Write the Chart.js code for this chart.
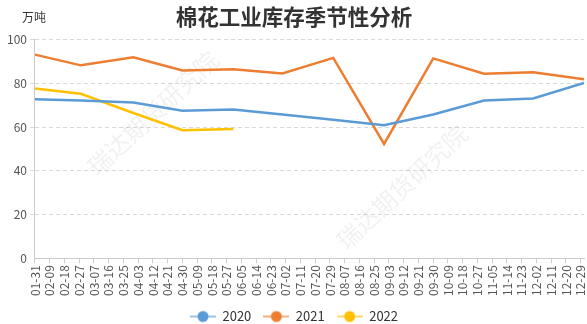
<!DOCTYPE html>
<html>
<head>
<meta charset="utf-8">
<script src="https://cdn.jsdelivr.net/npm/chart.js@4/dist/chart.umd.min.js"></script>
<style>
  html, body { margin: 0; padding: 0; background: #fff; }
  #wrap { width: 587px; height: 324px; }
</style>
</head>
<body>
<div id="wrap"><canvas id="chart" width="587" height="324"></canvas></div>
<script>
// 月末数据点 (MM-DD)
const pointDates = ['01-31', '02-28', '03-31', '04-30', '05-31', '06-30', '07-31', '08-31', '09-30', '10-31', '11-30', '12-31'];
const stock2020 = [72.8, 72.2, 71.3, 67.5, 68.1, 65.8, 63.4, 60.9, 65.8, 72.2, 73.1, 80.3];
const stock2021 = [93.2, 88.3, 92.0, 86.0, 86.5, 84.6, 91.7, 52.3, 91.5, 84.5, 85.1, 81.9];
const stock2022 = [77.7, 75.3, 66.5, 58.6, 59.2];
const seriesNames = ['2020', '2021', '2022'];
const seriesColors = ['#5B9BD5', '#ED7D31', '#FFC000'];
const yTicks = [0, 20, 40, 60, 80, 100];

const FONT = "'Microsoft YaHei', 'Noto Sans CJK SC', sans-serif";
const DAY = 86400000;
const START = Date.UTC(2020, 0, 31);

// 日期 -> 距 01-31 的天数
function dayIndex(md) {
  const [m, d] = md.split('-').map(Number);
  return (Date.UTC(2020, m - 1, d) - START) / DAY;
}

function dayLabel(v) {
  const dt = new Date(START + v * DAY);
  const mm = String(dt.getUTCMonth() + 1).padStart(2, '0');
  const dd = String(dt.getUTCDate()).padStart(2, '0');
  return mm + '-' + dd;
}

function toPoints(values) {
  return values.map((v, i) => ({ x: dayIndex(pointDates[i]), y: v }));
}

// 图例图标：线 + 圆点
function makeIcon(color) {
  const c = document.createElement('canvas');
  c.width = 26;
  c.height = 14;
  const g = c.getContext('2d');
  g.globalAlpha = 0.6;
  g.strokeStyle = color;
  g.lineWidth = 2;
  g.beginPath();
  g.moveTo(0, 7);
  g.lineTo(26, 7);
  g.stroke();
  g.globalAlpha = 1;
  g.fillStyle = color;
  g.beginPath();
  g.arc(13, 7, 5.5, 0, Math.PI * 2);
  g.fill();
  return c;
}

const icons = seriesColors.map(makeIcon);

// 水印 + 单位
const extras = {
  id: 'extras',
  beforeDatasetsDraw(chart) {
    const ctx = chart.ctx;
    ctx.save();
    ctx.fillStyle = 'rgba(0,0,0,0.06)';
    ctx.font = '24px ' + FONT;
    ctx.textAlign = 'center';
    ctx.textBaseline = 'middle';
    [[153, 113], [402, 187]].forEach(([x, y]) => {
      ctx.save();
      ctx.translate(x, y);
      ctx.rotate(-43 * Math.PI / 180);
      ctx.fillText('瑞达期货研究院', 0, 0);
      ctx.restore();
    });
    ctx.restore();
  },
  afterDraw(chart) {
    const ctx = chart.ctx;
    ctx.save();
    ctx.fillStyle = '#333';
    ctx.font = '12px ' + FONT;
    ctx.textAlign = 'left';
    ctx.textBaseline = 'middle';
    ctx.fillText('万吨', 22, 17);
    ctx.restore();
  }
};

const datasets = [stock2020, stock2021, stock2022].map((vals, i) => ({
  label: seriesNames[i],
  data: toPoints(vals),
  borderColor: seriesColors[i],
  backgroundColor: seriesColors[i],
  borderWidth: 2.5,
  pointRadius: 0,
  pointHoverRadius: 0,
  pointStyle: icons[i],
  tension: 0
}));

new Chart(document.getElementById('chart'), {
  type: 'line',
  data: { datasets: datasets },
  plugins: [extras],
  options: {
    responsive: false,
    animation: false,
    layout: { padding: { left: 4, right: 3, top: 0, bottom: -9 } },
    plugins: {
      title: {
        display: true,
        text: '棉花工业库存季节性分析',
        color: '#333',
        font: { family: FONT, size: 21.5, weight: 'bold' },
        padding: { top: 4, bottom: 10 }
      },
      legend: {
        position: 'bottom',
        labels: {
          usePointStyle: true,
          pointStyleWidth: 26,
          boxHeight: 13,
          padding: 12,
          color: '#333',
          font: { family: FONT, size: 13 }
        }
      },
      tooltip: { enabled: false }
    },
    scales: {
      x: {
        type: 'linear',
        min: 0,
        max: dayIndex('12-31'),
        afterFit: (s) => { s.paddingRight = 0; },
        ticks: {
          stepSize: 9,
          includeBounds: false,
          autoSkip: false,
          minRotation: 90,
          maxRotation: 90,
          padding: 2,
          color: '#555',
          font: { family: FONT, size: 12 },
          callback: (v) => dayLabel(v)
        },
        grid: {
          drawOnChartArea: false,
          drawTicks: true,
          tickLength: 5,
          color: '#ccc'
        },
        border: { display: true, color: '#ccc', width: 1 }
      },
      y: {
        min: 0,
        max: 100,
        afterBuildTicks: (scale) => { scale.ticks = yTicks.map(v => ({ value: v })); },
        ticks: {
          padding: 3,
          color: '#555',
          font: { family: FONT, size: 12 }
        },
        grid: {
          color: (c) => c.tick && c.tick.value === 0 ? 'rgba(0,0,0,0)' : '#d9d9d9',
          tickLength: 5
        },
        border: { display: true, color: '#ccc', width: 1, dash: [4, 3] }
      }
    }
  }
});
</script>
</body>
</html>
